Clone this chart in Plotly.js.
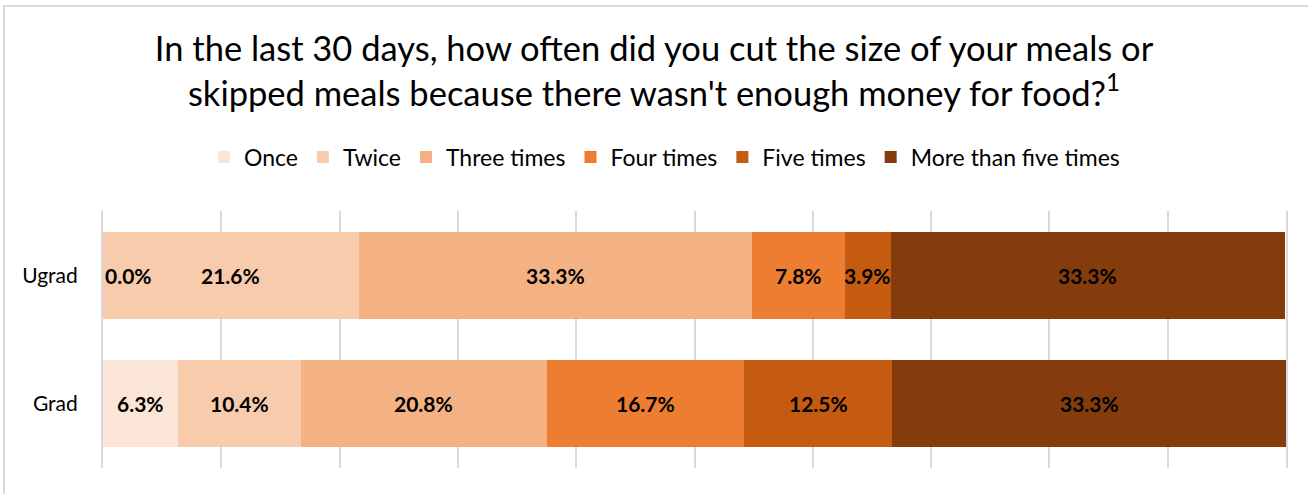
<!DOCTYPE html>
<html>
<head>
<meta charset="utf-8">
<script src="https://cdn.plot.ly/plotly-3.0.1.min.js"></script>
<style>
  html, body { margin: 0; padding: 0; background: #fff; overflow: hidden; }
  #wrap { position: relative; width: 1308px; height: 494px; }
  #chart { width: 1308px; height: 494px; }
  #frame { position: absolute; left: 3px; top: 5px; width: 1320px; height: 510px;
           border: 2px solid #D9D9D9; pointer-events: none; box-sizing: border-box; }
</style>
</head>
<body>
<div id="wrap">
  <div id="chart"></div>
  <div id="frame"></div>
</div>
<script>
const categories = ["Ugrad", "Grad"];
const seriesNames = ["Once", "Twice", "Three times", "Four times", "Five times", "More than five times"];
const once = [0.0, 6.3];
const twice = [21.6, 10.4];
const threeTimes = [33.3, 20.8];
const fourTimes = [7.8, 16.7];
const fiveTimes = [3.9, 12.5];
const moreThanFive = [33.3, 33.3];
const colors = ["#FBE5D6", "#F8CBAD", "#F4B183", "#ED7D31", "#C55A11", "#843C0C"];

const allSeries = [once, twice, threeTimes, fourTimes, fiveTimes, moreThanFive];
const FONT = "Lato, 'Open Sans', sans-serif";

const traces = allSeries.map((vals, i) => ({
  type: "bar",
  orientation: "h",
  name: seriesNames[i],
  y: categories,
  x: vals.map(v => v / 100),
  marker: { color: colors[i], line: { width: 0 } },
  hoverinfo: "skip"
}));

// data labels positioned at segment centres (from data)
const annotations = [];
categories.forEach((cat, ci) => {
  let cum = 0;
  allSeries.forEach((vals, si) => {
    const v = vals[ci] / 100;
    const zero = vals[ci] === 0;
    annotations.push({
      x: zero ? cum : cum + v / 2,
      y: cat,
      xref: "x", yref: "y",
      text: "<b>" + vals[ci].toFixed(1) + "%</b>",
      showarrow: false,
      xanchor: zero ? "left" : "center",
      font: { family: FONT, size: 21, color: "#000" }
    });
    cum += v;
  });
});

const layout = {
  width: 1308, height: 494,
  margin: { l: 103, r: 22, t: 211, b: 26 },
  paper_bgcolor: "#fff", plot_bgcolor: "#fff",
  barmode: "stack",
  bargap: 0.323,
  title: {
    text: "In the last 30 days, how often did you cut the size of your meals or<br>skipped meals because there wasn't enough money for food?<sup>1</sup>",
    font: { family: FONT, size: 34.5, color: "#000" },
    x: 0.5, xanchor: "center", yref: "container", y: 0.877, yanchor: "top"
  },
  showlegend: true,
  legend: {
    orientation: "h", x: 0.4746, xanchor: "center", y: 1.21, yanchor: "middle",
    font: { family: FONT, size: 23, color: "#000" },
    traceorder: "normal", itemwidth: 30
  },
  xaxis: {
    range: [0, 1], showticklabels: false, ticks: "",
    showgrid: true, gridcolor: "#D9D9D9", gridwidth: 2, dtick: 0.1,
    zeroline: false, showline: false, fixedrange: true
  },
  yaxis: {
    autorange: "reversed", showgrid: false, zeroline: false,
    showline: true, mirror: true, linecolor: "#D9D9D9", linewidth: 2,
    ticks: "", ticklabelstandoff: 19,
    tickfont: { family: FONT, size: 21, color: "#000" }, fixedrange: true
  },
  annotations: annotations
};

Plotly.newPlot("chart", traces, layout, { displayModeBar: false, staticPlot: true });
</script>
</body>
</html>
